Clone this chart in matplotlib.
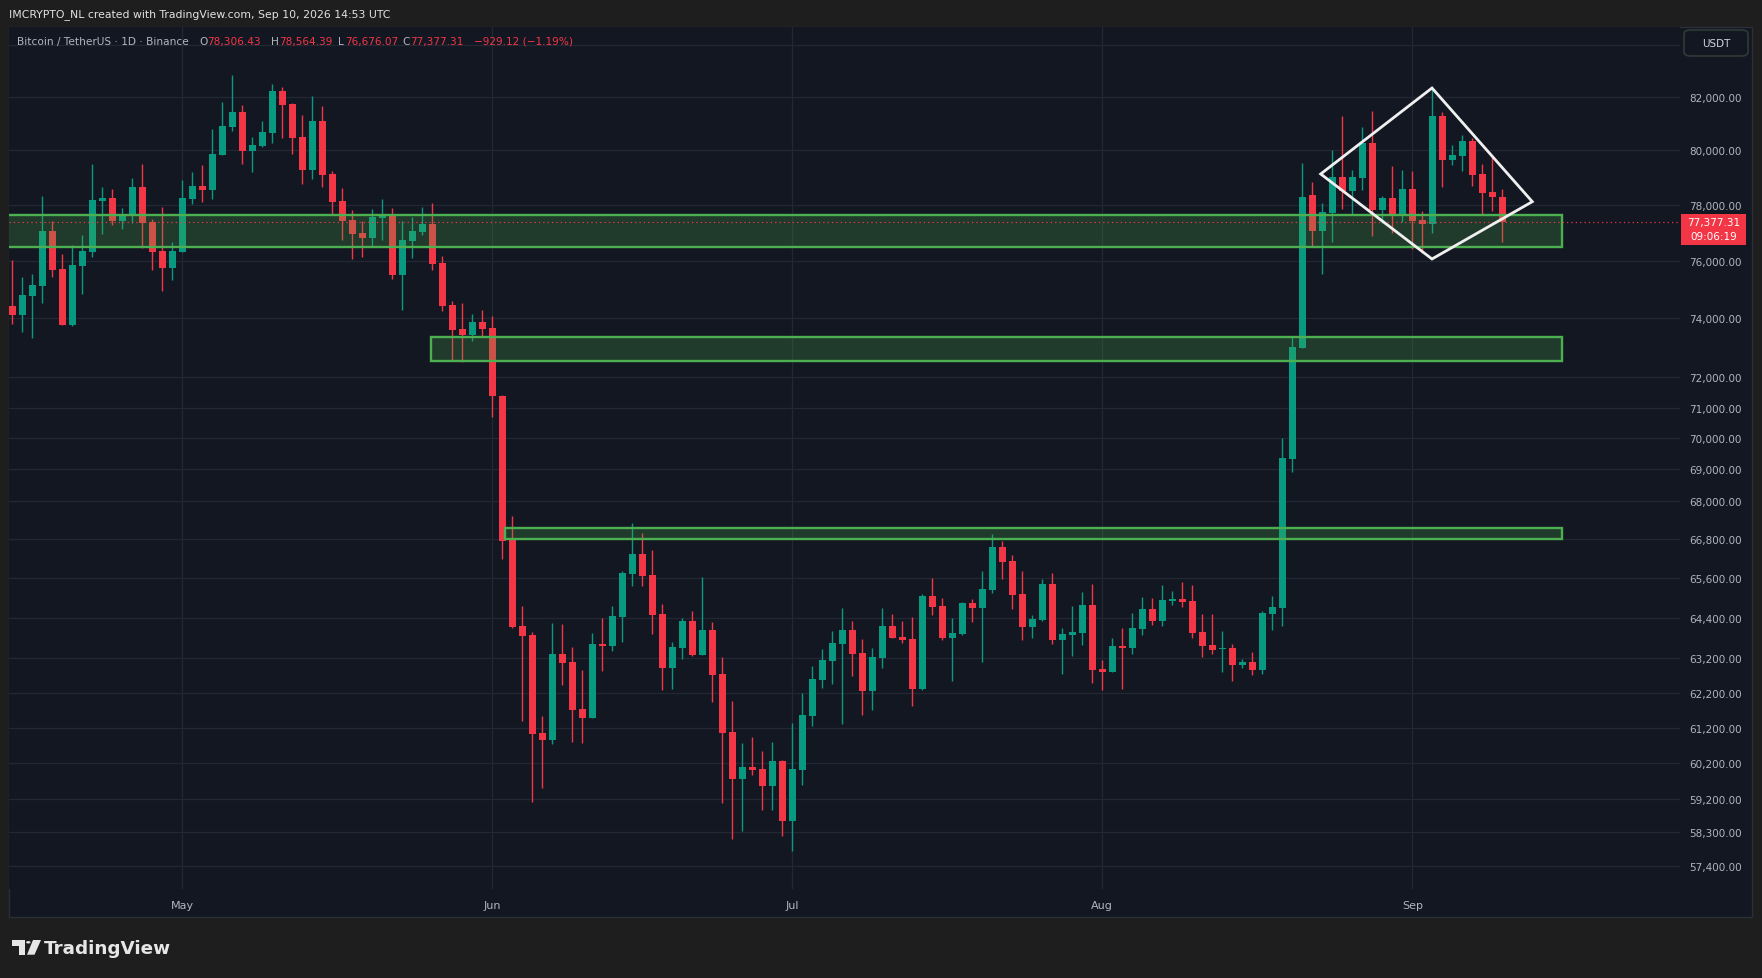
import matplotlib
matplotlib.use("Agg")
import matplotlib.pyplot as plt
import numpy as np
import pandas as pd
from matplotlib.patches import Rectangle, FancyBboxPatch, Polygon, Circle
from matplotlib.ticker import NullLocator

W, H = 1762, 979

# daily BTC/USDT candles, 14 Apr -> 10 Sep
dates = pd.date_range("2026-04-14", periods=150, freq="D")
opens = [74430, 74120, 74775, 75120, 77065, 75715, 73770, 75820, 76315, 78145,
         78250, 77420, 77600, 78650, 77385, 76350, 75750, 76315, 78215, 78690,
         78545, 79830, 80875, 81440, 79980, 80165, 80650, 82230, 81740, 80495,
         79275, 81100, 79130, 78145, 77455, 76990, 76815, 77530, 77650, 75505,
         76705, 77025, 77315, 75925, 74460, 73635, 73430, 73875, 73670, 71380,
         66770, 64155, 63890, 61050, 60850, 63330, 63095, 61730, 61475, 63615,
         63555, 64425, 65720, 66330, 65690, 64515, 62915, 63505, 64305, 63300,
         64035, 62740, 61070, 59760, 60085, 60030, 59565, 60260, 58605, 60000,
         61530, 62560, 63115, 63615, 64035, 63360, 62245, 63210, 64150, 63825,
         63770, 62300, 65055, 64750, 63795, 63920, 64840, 64690, 65240, 66550,
         66120, 65120, 64125, 64335, 65410, 63735, 63890, 63950, 64780, 62885,
         62800, 63555, 63495, 64065, 64660, 64305, 64900, 64960, 64900, 63980,
         63585, 63470, 63495, 63000, 63095, 62855, 64515, 64690, 69325, 72990,
         78365, 77065, 77710, 79020, 78505, 78980, 80275, 77815, 78250, 77635,
         78580, 77455, 77315, 81300, 79645, 79795, 80350, 79130, 78470, 78306.43]
highs = [76030, 75435, 75540, 78325, 77420, 76245, 76565, 76920, 79495, 78650,
         78580, 77890, 78980, 79495, 77495, 77925, 76670, 78910, 79200, 79460,
         80800, 81820, 82850, 81700, 80500, 81100, 82500, 82385, 81780, 81325,
         82045, 81665, 79240, 78615, 77815, 77420, 77855, 78215, 77890, 77420,
         77565, 77925, 78070, 76175, 74600, 74530, 74150, 74290, 74080, 71415,
         67515, 64755, 63980, 61530, 64245, 64215, 63535, 62855, 63950, 64395,
         64755, 65815, 67295, 66980, 66455, 64810, 63675, 64395, 64600, 65630,
         64275, 63240, 61960, 60765, 60935, 60540, 60790, 60290, 61335, 62185,
         62970, 63470, 64010, 64690, 64305, 63770, 63505, 64690, 64510, 64305,
         64425, 65120, 65600, 64990, 64395, 64870, 64960, 65815, 66950, 66735,
         66300, 65815, 64485, 65570, 65755, 64095, 64755, 65180, 65410, 63145,
         63795, 64095, 64545, 65020, 64990, 65380, 65200, 65475, 65380, 64515,
         64515, 64010, 63615, 63180, 63380, 64600, 65055, 70000, 73380, 79520,
         78840, 78070, 80015, 81285, 79275, 80875, 81475, 78325, 79425, 79275,
         79240, 77780, 82310, 81440, 80200, 80575, 80460, 79495, 79750, 78564.39]
lows = [73810, 73535, 73330, 74530, 75435, 73760, 73740, 74840, 76140, 76955,
        77275, 77135, 77350, 76460, 75680, 74945, 75330, 76315, 78035, 78110,
        78215, 79830, 80725, 79495, 79200, 80125, 80275, 80460, 79865, 78765,
        78945, 78650, 77635, 76740, 76065, 76140, 76530, 76740, 75365, 74285,
        76105, 76920, 75680, 74255, 72585, 72515, 73230, 73400, 70690, 66180,
        64095, 61390, 59125, 59510, 60735, 62420, 60795, 60765, 61475, 62825,
        63410, 63675, 65355, 65355, 63920, 62275, 62300, 63180, 63270, 63300,
        61930, 59095, 58110, 58330, 59865, 58910, 58910, 58200, 57795, 59590,
        61250, 62330, 62445, 61300, 62680, 61560, 61705, 62915, 63790, 63650,
        61820, 62275, 64485, 63735, 62535, 63890, 64275, 63095, 65150, 65570,
        64660, 63735, 63795, 64305, 63615, 62740, 63270, 63585, 62475, 62275,
        62800, 62300, 63330, 63890, 64185, 64155, 64780, 64720, 63795, 63240,
        63330, 62800, 62535, 62915, 62710, 62740, 64035, 64155, 68910, 72990,
        76495, 75540, 76670, 77855, 77635, 78545, 76880, 77350, 76990, 77385,
        76425, 76280, 76990, 78650, 79460, 79240, 78690, 77635, 77780, 76676.07]
closes = [74120, 74810, 75155, 77065, 75680, 73770, 75855, 76350, 78180, 78250,
          77420, 77635, 78650, 77350, 76315, 75750, 76350, 78250, 78690, 78545,
          79865, 80910, 81440, 79980, 80200, 80685, 82230, 81700, 80460, 79275,
          81100, 79090, 78110, 77420, 76955, 76815, 77565, 77650, 75505, 76740,
          77065, 77315, 75890, 74425, 73600, 73430, 73875, 73635, 71380, 66735,
          64125, 63860, 61020, 60850, 63330, 63065, 61705, 61475, 63615, 63555,
          64455, 65755, 66330, 65660, 64485, 62915, 63535, 64305, 63300, 64035,
          62710, 61050, 59760, 60085, 60000, 59565, 60260, 58605, 60030, 61560,
          62590, 63145, 63650, 64035, 63330, 62245, 63240, 64150, 63795, 63735,
          62300, 65055, 64720, 63795, 63950, 64840, 64690, 65270, 66550, 66090,
          65080, 64125, 64365, 65410, 63735, 63920, 63980, 64780, 62855, 62800,
          63555, 63495, 64095, 64660, 64305, 64930, 64960, 64870, 63950, 63555,
          63440, 63500, 63000, 63095, 62855, 64545, 64720, 69350, 73015, 78300,
          77065, 77745, 79020, 78505, 79020, 80275, 77815, 78250, 77635, 78580,
          77420, 77315, 81300, 79645, 79830, 80350, 79090, 78435, 78290, 77377.31]

# support zones (day offsets from first candle, price bounds)
zone_start = [-5, 41.9, 49.3]
zone_end = [155, 155, 155]
zone_low = [76490, 72550, 66800]
zone_high = [77650, 73375, 67140]

# white diamond drawing
diamond_day = [130.84, 141.97, 152.0, 141.97]
diamond_price = [79130, 82350, 78120, 76070]

price_ticks = [82000, 80000, 78000, 76000, 74000, 72000, 71000, 70000, 69000,
               68000, 66800, 65600, 64400, 63200, 62200, 61200, 60200, 59200,
               58300, 57400]

UP = "#089981"
DOWN = "#f23645"
BG = "#131722"
FRAME = "#1e1e1e"
GRID = "#232733"
TXT = "#b2b5be"


def fx(x):
    return x / W


def fy(y):
    return 1 - y / H


fig = plt.figure(figsize=(W / 100, H / 100), dpi=100, facecolor=FRAME)

# chart panel
fig.patches.append(Rectangle((fx(9), fy(918)), fx(1752) - fx(9), fy(28) - fy(918),
                             transform=fig.transFigure, facecolor=BG,
                             edgecolor="#2a2e39", lw=1, zorder=-5))

ax = fig.add_axes([fx(9), fy(890), fx(1680) - fx(9), fy(28) - fy(890)])
ax.set_facecolor(BG)
for s in ax.spines.values():
    s.set_visible(False)
ax.set_yscale("log")
ax.set_xlim(-0.33, 166.77)
ax.set_ylim(56788, 84715)

x = np.arange(len(dates))
o = np.array(opens)
c = np.array(closes)
hi = np.array(highs)
lo = np.array(lows)
cols = np.where(c >= o, UP, DOWN)

ax.vlines(x, lo, hi, colors=cols, lw=1.0, zorder=3)
bot = np.minimum(o, c)
height = np.maximum(np.abs(c - o), bot * 0.0006)
ax.bar(x, height, bottom=bot, width=0.65, color=cols, linewidth=0, zorder=4)

# grid
ax.yaxis.tick_right()
ax.set_yticks(price_ticks)
ax.set_yticklabels([f"{p:,.2f}" for p in price_ticks])
ax.yaxis.set_minor_locator(NullLocator())
ax.axhline(84000, color=GRID, lw=0.9, zorder=0)
month_idx = [i for i, d in enumerate(dates) if d.day == 1]
ax.set_xticks(month_idx)
ax.set_xticklabels([dates[i].strftime("%b") for i in month_idx])
ax.grid(True, color=GRID, lw=0.9, zorder=0)
ax.set_axisbelow(True)
ax.tick_params(axis="y", length=0, pad=6.5, labelsize=7.5, labelcolor=TXT)
ax.tick_params(axis="x", length=0, pad=8, labelsize=8, labelcolor=TXT)

# zones
for a, b, l, h_ in zip(zone_start, zone_end, zone_low, zone_high):
    ax.add_patch(Rectangle((a, l), b - a, h_ - l, facecolor=(0.30, 0.69, 0.31, 0.23),
                           edgecolor="none", zorder=5))
    ax.add_patch(Rectangle((a, l), b - a, h_ - l, facecolor="none",
                           edgecolor="#4caf50", lw=1.7, zorder=6))

ax.add_patch(Polygon(list(zip(diamond_day, diamond_price)), closed=True, fill=False,
                     edgecolor="#f0f0f0", lw=2.0, zorder=7))

# last price line
ax.axhline(closes[-1], color=DOWN, lw=0.9, ls=(0, (1, 2.5)), zorder=6)

# top title
fig.text(fx(9), fy(14.6), "IMCRYPTO_NL created with TradingView.com, Sep 10, 2026 14:53 UTC",
         color="#e2e2e2", fontsize=7.8, va="center", ha="left")

# legend line
hy = fy(42)
fig.text(fx(17), hy, "Bitcoin / TetherUS · 1D · Binance", color=TXT, fontsize=7.6, va="center")
parts = [(199, "O", TXT), (207.5, f"{opens[-1]:,.2f}", DOWN),
         (271, "H", TXT), (279, f"{highs[-1]:,.2f}", DOWN),
         (338, "L", TXT), (345, f"{lows[-1]:,.2f}", DOWN),
         (402, "C", TXT), (410, f"{closes[-1]:,.2f}", DOWN),
         (473.5, f"{closes[-1] - opens[-1]:,.2f} ({(closes[-1] - opens[-1]) / opens[-1] * 100:.2f}%)", DOWN)]
for px, t, col in parts:
    fig.text(fx(px), hy, t.replace("-", "\u2212"), color=col, fontsize=7.6, va="center")

# currency box
fig.patches.append(FancyBboxPatch((fx(1684), fy(57)), fx(1748) - fx(1684), fy(31) - fy(57),
                                  boxstyle="round,pad=0,rounding_size=0.004",
                                  transform=fig.transFigure, facecolor=BG,
                                  edgecolor="#2f3a37", lw=1.2, zorder=2))
fig.text(fx(1716), fy(44), "USDT", color="#d1d4dc", fontsize=7.5, ha="center", va="center", zorder=3)

# last price tag
fig.patches.append(Rectangle((fx(1681), fy(245.5)), fx(1746) - fx(1681), fy(215) - fy(245.5),
                             transform=fig.transFigure, facecolor=DOWN, edgecolor="none", zorder=2))
fig.text(fx(1713.5), fy(223), f"{closes[-1]:,.2f}", color="white", fontsize=7.5,
         ha="center", va="center", zorder=3)
fig.text(fx(1713.5), fy(237.5), "09:06:19", color="white", fontsize=7.5,
         ha="center", va="center", zorder=3)

# TradingView logo
LOGO = "#e6e6e6"
pts = [(12, 941), (25, 941), (25, 955.7), (18.5, 955.7), (18.5, 946.5), (12, 946.5)]
fig.patches.append(Polygon([(fx(a), fy(b)) for a, b in pts], closed=True,
                           transform=fig.transFigure, facecolor=LOGO, edgecolor="none"))
fig.patches.append(Circle((fx(28.3), fy(943.3)), 2.2 / W, transform=fig.transFigure,
                          facecolor=LOGO, edgecolor="none"))
pts = [(33, 941), (41, 941), (34.5, 955.7), (27, 955.7)]
fig.patches.append(Polygon([(fx(a), fy(b)) for a, b in pts], closed=True,
                           transform=fig.transFigure, facecolor=LOGO, edgecolor="none"))
fig.text(fx(44), fy(949), "TradingView", color=LOGO, fontsize=13.2, fontweight="bold",
         va="center", ha="left")

fig.savefig("out.png", dpi=100, facecolor=FRAME)
